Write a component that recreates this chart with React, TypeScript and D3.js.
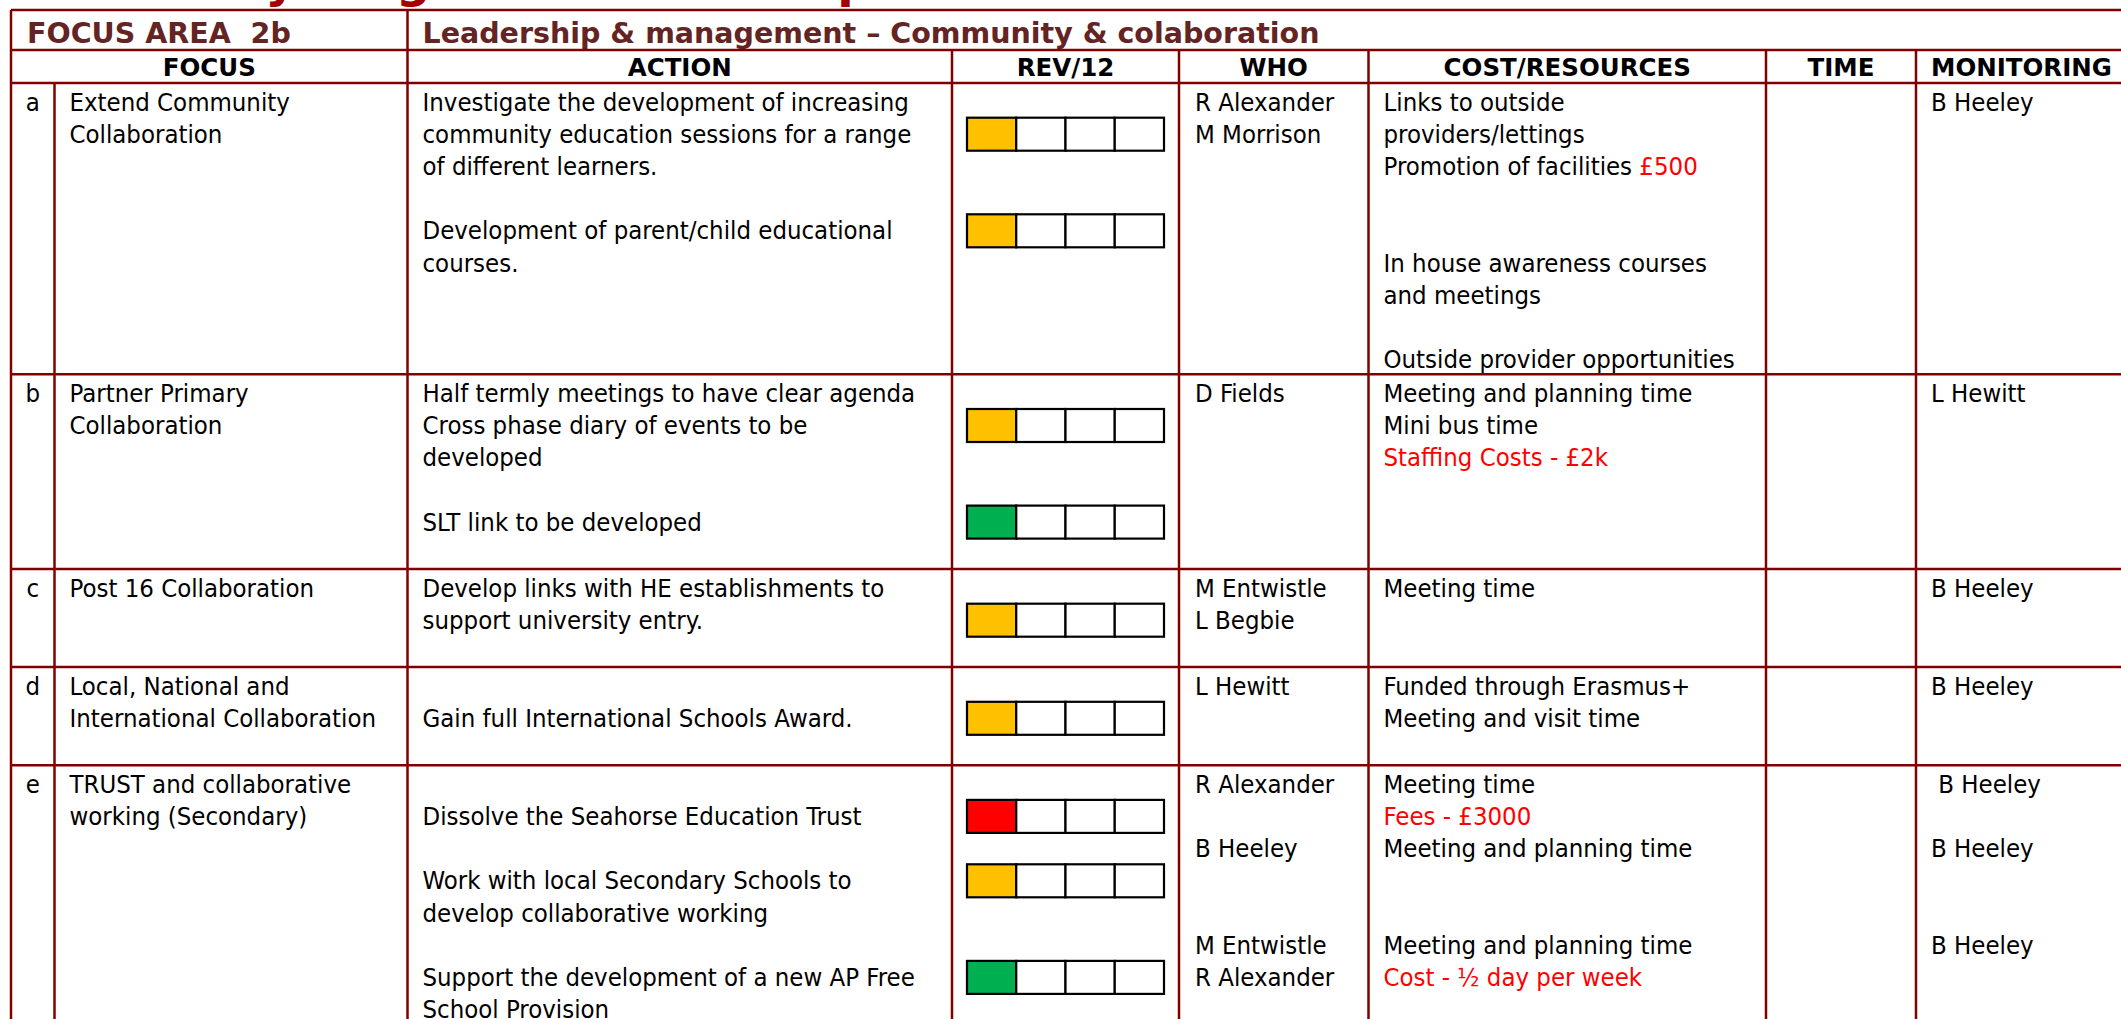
import React from 'react';
import * as d3 from 'd3';

type Seg = string | { t?: string; r: string };
type Rag = [number, 'amber' | 'green' | 'red'];

// ---- data ----
const titleText = 'Priority Targets – Leadership';
const areaLabel = 'FOCUS AREA  2b';
const areaTitle = 'Leadership & management – Community & colaboration';
const columnHeads = ['FOCUS', 'ACTION', 'REV/12', 'WHO', 'COST/RESOURCES', 'TIME', 'MONITORING'];

const letters = ['a', 'b', 'c', 'd', 'e'];
const rowLines = [9, 6, 3, 3, 9];

const focusText: string[][] = [
  ['Extend Community', 'Collaboration'],
  ['Partner Primary', 'Collaboration'],
  ['Post 16 Collaboration'],
  ['Local, National and', 'International Collaboration'],
  ['TRUST and collaborative', 'working (Secondary)'],
];

const actionText: string[][] = [
  ['Investigate the development of increasing', 'community education sessions for a range', 'of different learners.', '', 'Development of parent/child educational', 'courses.'],
  ['Half termly meetings to have clear agenda', 'Cross phase diary of events to be', 'developed', '', 'SLT link to be developed'],
  ['Develop links with HE establishments to', 'support university entry.'],
  ['', 'Gain full International Schools Award.'],
  ['', 'Dissolve the Seahorse Education Trust', '', 'Work with local Secondary Schools to', 'develop collaborative working', '', 'Support the development of a new AP Free', 'School Provision'],
];

const revStatus: Rag[][] = [
  [[1, 'amber'], [4, 'amber']],
  [[1, 'amber'], [4, 'green']],
  [[1, 'amber']],
  [[1, 'amber']],
  [[1, 'red'], [3, 'amber'], [6, 'green']],
];

const whoText: string[][] = [
  ['R Alexander', 'M Morrison'],
  ['D Fields'],
  ['M Entwistle', 'L Begbie'],
  ['L Hewitt'],
  ['R Alexander', '', 'B Heeley', '', '', 'M Entwistle', 'R Alexander'],
];

const costText: Seg[][] = [
  ['Links to outside', 'providers/lettings', { t: 'Promotion of facilities ', r: '£500' }, '', '', 'In house awareness courses', 'and meetings', '', 'Outside provider opportunities'],
  ['Meeting and planning time', 'Mini bus time', { r: 'Staffing Costs - £2k' }],
  ['Meeting time'],
  ['Funded through Erasmus+', 'Meeting and visit time'],
  ['Meeting time', { r: 'Fees - £3000' }, 'Meeting and planning time', '', '', 'Meeting and planning time', { r: 'Cost - ½ day per week' }],
];

const timeText: string[][] = [[], [], [], [], []];

const monitorText: string[][] = [
  ['B Heeley'],
  ['L Hewitt'],
  ['B Heeley'],
  ['B Heeley'],
  [' B Heeley', '', 'B Heeley', '', '', 'B Heeley'],
];

const ragColors: Record<string, string> = { amber: '#FFC000', green: '#00B050', red: '#FF0000' };

// ---- layout ----
const W = 2121;
const H = 1019;
const colKeys = ['letter', 'focus', 'action', 'rev', 'who', 'cost', 'time', 'mon', 'end'];
const colEdges = [11, 54.5, 407.5, 952, 1179, 1368.5, 1766, 1916, 2160];
const colX = d3.scaleOrdinal<string, number>().domain(colKeys).range(colEdges);
const PAD = 15;
const LH = 32.2;
const BASE = 27.5;
const yTop = 10;
const yHead1 = 50;
const yHead2 = 83;

const rowTops = [yHead2, ...Array.from(d3.cumsum(rowLines, (n) => n * LH + 1.5)).map((v) => yHead2 + v)];
const lineY = (row: number) => d3.scaleLinear().domain([0, 1]).range([rowTops[row] + BASE, rowTops[row] + BASE + LH]);

const BORDER = '#800000';
const HEAD = '#632423';
const regFont = "'DejaVu Sans Condensed', 'DejaVu Sans', sans-serif";
const boldFont = "'DejaVu Sans', sans-serif";
const FS = 25.5;

const Lines: React.FC<{ rows: Seg[]; row: number; x: number }> = ({ rows, row, x }) => {
  const y = lineY(row);
  return (
    <>
      {rows.map((seg, i) =>
        seg === '' ? null : (
          <text key={i} x={x} y={y(i)} fontSize={FS} style={{ whiteSpace: 'pre' }}>
            {typeof seg === 'string' ? (
              seg
            ) : (
              <>
                {seg.t && <tspan fill="#000">{seg.t}</tspan>}
                <tspan fill="#FF0000">{seg.r}</tspan>
              </>
            )}
          </text>
        )
      )}
    </>
  );
};

const RagBox: React.FC<{ row: number; at: number; status: string }> = ({ row, at, status }) => {
  const x0 = colX('rev') + PAD;
  const cells = d3.scaleBand<number>().domain(d3.range(4)).range([x0, x0 + 197]);
  const cy = lineY(row)(at) - 8.5;
  const h = 33;
  return (
    <g>
      {cells.domain().map((c) => (
        <rect
          key={c}
          x={cells(c)}
          y={cy - h / 2}
          width={cells.bandwidth()}
          height={h}
          fill={c === 0 ? ragColors[status] : '#fff'}
          stroke="#000"
          strokeWidth={2.2}
        />
      ))}
    </g>
  );
};

export default function App() {
  const bottom = H + 20;
  const headCenters = [
    (colX('letter') + colX('action')) / 2,
    (colX('action') + colX('rev')) / 2,
    (colX('rev') + colX('who')) / 2,
    (colX('who') + colX('cost')) / 2,
    (colX('cost') + colX('time')) / 2,
    (colX('time') + colX('mon')) / 2,
  ];
  const innerCols = ['letter', 'action', 'rev', 'who', 'cost', 'time', 'mon'];

  return (
    <svg
      width={W}
      height={H}
      viewBox={`0 0 ${W} ${H}`}
      style={{ position: 'absolute', left: 0, top: 0, background: '#fff' }}
      fontFamily={regFont}
    >
      <rect width={W} height={H} fill="#fff" />
      <text x={94} y={-3} fontFamily={boldFont} fontWeight="bold" fontSize={48} fill="#A50000">
        {titleText}
      </text>

      {/* header row 1 */}
      <text x={colX('letter') + 16} y={42.5} fontFamily={boldFont} fontWeight="bold" fontSize={28.5} fill={HEAD} style={{ whiteSpace: 'pre' }}>
        {areaLabel}
      </text>
      <text x={colX('action') + PAD} y={42.5} fontFamily={boldFont} fontWeight="bold" fontSize={28.5} fill={HEAD}>
        {areaTitle}
      </text>

      {/* header row 2 */}
      {columnHeads.map((h, i) =>
        i < 6 ? (
          <text key={h} x={headCenters[i]} y={76} textAnchor="middle" fontFamily={boldFont} fontWeight="bold" fontSize={24.5}>
            {h}
          </text>
        ) : (
          <text key={h} x={colX('mon') + PAD} y={76} fontFamily={boldFont} fontWeight="bold" fontSize={24.5}>
            {h}
          </text>
        )
      )}

      {/* body */}
      {letters.map((l, r) => (
        <g key={l} fontStretch="condensed">
          <text x={(colX('letter') + colX('focus')) / 2} y={lineY(r)(0)} textAnchor="middle" fontSize={FS}>
            {l}
          </text>
          <Lines rows={focusText[r]} row={r} x={colX('focus') + PAD} />
          <Lines rows={actionText[r]} row={r} x={colX('action') + PAD} />
          {revStatus[r].map(([at, s], k) => (
            <RagBox key={k} row={r} at={at} status={s} />
          ))}
          <Lines rows={whoText[r]} row={r} x={colX('who') + PAD + 1} />
          <Lines rows={costText[r]} row={r} x={colX('cost') + PAD} />
          <Lines rows={timeText[r]} row={r} x={colX('time') + PAD} />
          <Lines rows={monitorText[r]} row={r} x={colX('mon') + PAD} />
        </g>
      ))}

      {/* grid */}
      <g stroke={BORDER} strokeWidth={2.5}>
        {[yTop, yHead1, yHead2, ...rowTops.slice(1, 5)].map((y, i) => (
          <line key={`h${i}`} x1={colX('letter')} x2={W + 10} y1={y} y2={y} />
        ))}
        <line x1={colX('letter')} x2={colX('letter')} y1={yTop} y2={bottom} />
        <line x1={colX('action')} x2={colX('action')} y1={yTop} y2={bottom} />
        {innerCols
          .filter((c) => c !== 'letter' && c !== 'action')
          .map((c) => (
            <line key={c} x1={colX(c)} x2={colX(c)} y1={yHead1} y2={bottom} />
          ))}
        <line x1={colX('focus')} x2={colX('focus')} y1={yHead2} y2={bottom} />
      </g>
    </svg>
  );
}
